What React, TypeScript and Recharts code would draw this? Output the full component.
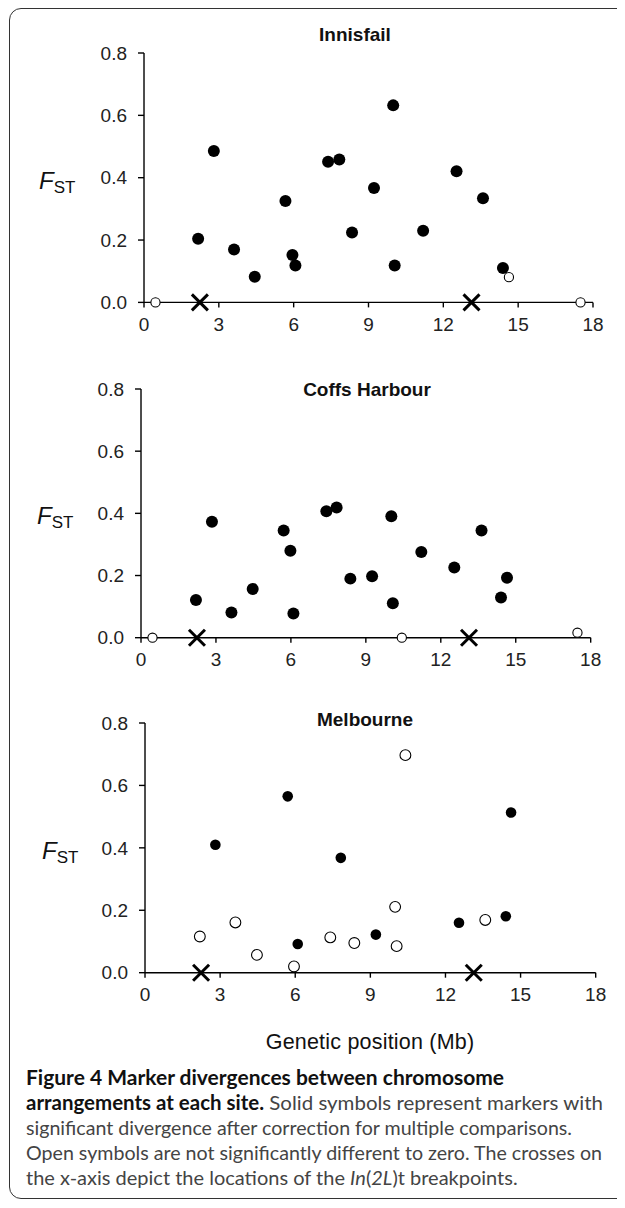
import { Scatter, ScatterChart, XAxis, YAxis, Label } from 'recharts';

// Innisfail
const innisfailSolidPos = [2.17, 2.8, 3.61, 4.44, 5.67, 5.95, 6.07, 7.38, 7.83, 8.34, 9.22, 9.99, 10.05, 11.19, 12.53, 13.59, 14.39];
const innisfailSolidFst = [0.204, 0.486, 0.17, 0.082, 0.325, 0.152, 0.118, 0.451, 0.458, 0.224, 0.367, 0.632, 0.118, 0.23, 0.421, 0.334, 0.11];
const innisfailOpenPos = [0.46, 14.63, 17.5];
const innisfailOpenFst = [0, 0.081, 0];

// Coffs Harbour
const coffsSolidPos = [2.2, 2.84, 3.62, 4.47, 5.71, 5.98, 6.1, 7.42, 7.83, 8.38, 9.25, 10.02, 10.08, 11.22, 12.54, 13.63, 14.41, 14.65];
const coffsSolidFst = [0.121, 0.373, 0.081, 0.157, 0.345, 0.28, 0.078, 0.407, 0.419, 0.19, 0.198, 0.391, 0.111, 0.276, 0.226, 0.345, 0.129, 0.193];
const coffsOpenPos = [0.46, 10.44, 17.47];
const coffsOpenFst = [0, 0, 0.016];

// Melbourne
const melbourneSolidPos = [2.81, 5.7, 6.1, 7.82, 9.22, 12.54, 14.41, 14.62];
const melbourneSolidFst = [0.41, 0.565, 0.092, 0.368, 0.122, 0.16, 0.181, 0.513];
const melbourneOpenPos = [2.19, 3.61, 4.47, 5.95, 7.4, 8.36, 9.99, 10.05, 10.4, 13.59];
const melbourneOpenFst = [0.116, 0.161, 0.057, 0.02, 0.113, 0.095, 0.211, 0.085, 0.697, 0.169];

// In(2L)t breakpoints
const breakpoints = [2.24, 13.13];

const xTicks = [0, 3, 6, 9, 12, 15, 18];
const yTicks = [0, 0.2, 0.4, 0.6, 0.8];

const toPoints = (pos: number[], fst: number[]) => pos.map((x, i) => ({ x, y: fst[i] }));

const AXIS_FONT = '"Liberation Sans", Arial, sans-serif';
const CAPTION_FONT = 'Lato, "Open Sans", sans-serif';

function Dot(r: number, open: boolean) {
  return (props: any) => (
    <circle
      cx={props.cx}
      cy={props.cy}
      r={r}
      fill={open ? '#fff' : '#000'}
      stroke="#000"
      strokeWidth={open ? 1.1 : 0}
    />
  );
}

const Cross = (props: any) => {
  const s = 8;
  return (
    <g stroke="#000" strokeWidth={3}>
      <line x1={props.cx - s} y1={props.cy - s} x2={props.cx + s} y2={props.cy + s} />
      <line x1={props.cx - s} y1={props.cy + s} x2={props.cx + s} y2={props.cy - s} />
    </g>
  );
};

const fstLabel = (labelX: number, dy: number) => (props: any) => {
  const vb = props.viewBox;
  const cy = vb.y + vb.height / 2 + dy;
  return (
    <text x={labelX} y={cy + 8} fontFamily={AXIS_FONT} fill="#111">
      <tspan fontSize={24} fontStyle="italic">F</tspan>
      <tspan fontSize={17} dy={4}>ST</tspan>
    </text>
  );
};

type PanelProps = {
  title: string;
  titleX: number;
  titleY: number;
  plotTop: number;
  plotBottom: number;
  axisX: number;
  rightX: number;
  labelX: number;
  solid: { x: number; y: number }[];
  open: { x: number; y: number }[];
  solidR: number;
  openR: number;
};

function Panel(p: PanelProps) {
  const crosses = breakpoints.map((x) => ({ x, y: 0 }));
  const plotHeight = p.plotBottom - p.plotTop;
  return (
    <>
      <div
        style={{
          position: 'absolute',
          left: p.titleX - 100,
          width: 200,
          top: p.titleY - 11,
          height: 22,
          lineHeight: '22px',
          textAlign: 'center',
          fontFamily: AXIS_FONT,
          fontWeight: 'bold',
          fontSize: 19,
          color: '#111',
        }}
      >
        {p.title}
      </div>
      <div style={{ position: 'absolute', left: 0, top: p.plotTop - 40 }}>
        <ScatterChart
          width={625}
          height={plotHeight + 80}
          margin={{ top: 40, right: 625 - p.rightX, left: 0, bottom: 0 }}
        >
          <XAxis
            type="number"
            dataKey="x"
            domain={[0, 18]}
            ticks={xTicks}
            allowDataOverflow
            height={40}
            tickSize={5}
            tickMargin={10}
            axisLine={{ stroke: '#000', strokeWidth: 1.4 }}
            tickLine={{ stroke: '#000', strokeWidth: 1.4 }}
            tick={{ fill: '#222', fontSize: 19, fontFamily: AXIS_FONT }}
          />
          <YAxis
            type="number"
            dataKey="y"
            domain={[0, 0.8]}
            ticks={yTicks}
            width={p.axisX}
            tickSize={6}
            tickMargin={11}
            tickFormatter={(v: number) => v.toFixed(1)}
            axisLine={{ stroke: '#000', strokeWidth: 1.4 }}
            tickLine={{ stroke: '#000', strokeWidth: 1.4 }}
            tick={{ fill: '#222', fontSize: 19, fontFamily: AXIS_FONT }}
          >
            <Label content={fstLabel(p.labelX, 3)} />
          </YAxis>
          <Scatter data={p.solid} shape={Dot(p.solidR, false)} isAnimationActive={false} />
          <Scatter data={p.open} shape={Dot(p.openR, true)} isAnimationActive={false} />
          <Scatter data={crosses} shape={Cross} isAnimationActive={false} />
        </ScatterChart>
      </div>
    </>
  );
}

function Caption() {
  const common = { x: 26, fontFamily: CAPTION_FONT, fontSize: 20, fill: '#444' };
  const fit = { lengthAdjust: 'spacingAndGlyphs' as const };
  return (
    <svg width={625} height={140} style={{ position: 'absolute', left: 0, top: 1060 }}>
      <text {...common} {...fit} y={25} textLength={478} fill="#111" fontWeight="bold">
        Figure 4 Marker divergences between chromosome
      </text>
      <text {...common} {...fit} y={50} textLength={577}>
        <tspan fontWeight="bold" fill="#111">arrangements at each site.</tspan> Solid symbols represent markers with
      </text>
      <text {...common} {...fit} y={75} textLength={546}>
        significant divergence after correction for multiple comparisons.
      </text>
      <text {...common} {...fit} y={100} textLength={576}>
        Open symbols are not significantly different to zero. The crosses on
      </text>
      <text {...common} y={125}>
        the x-axis depict the locations of the <tspan fontStyle="italic">In</tspan>(<tspan fontStyle="italic">2L</tspan>)t breakpoints.
      </text>
    </svg>
  );
}

export default function App() {
  return (
    <div
      style={{
        position: 'relative',
        margin: -8,
        width: 625,
        height: 1208,
        overflow: 'hidden',
        background: '#fff',
      }}
    >
      <div
        style={{
          position: 'absolute',
          left: 9,
          top: 8,
          width: 640,
          height: 1191,
          border: '1.5px solid #333',
          borderRadius: 12,
          boxSizing: 'border-box',
        }}
      />
      <Panel
        title="Innisfail"
        titleX={355}
        titleY={35}
        plotTop={53.3}
        plotBottom={302.7}
        axisX={144}
        rightX={593}
        labelX={39}
        solid={toPoints(innisfailSolidPos, innisfailSolidFst)}
        open={toPoints(innisfailOpenPos, innisfailOpenFst)}
        solidR={6}
        openR={4.6}
      />
      <Panel
        title="Coffs Harbour"
        titleX={367}
        titleY={390}
        plotTop={389}
        plotBottom={637.7}
        axisX={141}
        rightX={590.7}
        labelX={37}
        solid={toPoints(coffsSolidPos, coffsSolidFst)}
        open={toPoints(coffsOpenPos, coffsOpenFst)}
        solidR={6}
        openR={4.6}
      />
      <Panel
        title="Melbourne"
        titleX={365}
        titleY={720}
        plotTop={723}
        plotBottom={972.7}
        axisX={145}
        rightX={595.7}
        labelX={42}
        solid={toPoints(melbourneSolidPos, melbourneSolidFst)}
        open={toPoints(melbourneOpenPos, melbourneOpenFst)}
        solidR={5.3}
        openR={5.4}
      />
      <div
        style={{
          position: 'absolute',
          left: 170,
          width: 400,
          top: 1029,
          height: 26,
          lineHeight: '26px',
          textAlign: 'center',
          fontFamily: AXIS_FONT,
          fontSize: 21.5,
          letterSpacing: 0.2,
          color: '#111',
        }}
      >
        Genetic position (Mb)
      </div>
      <Caption />
    </div>
  );
}
